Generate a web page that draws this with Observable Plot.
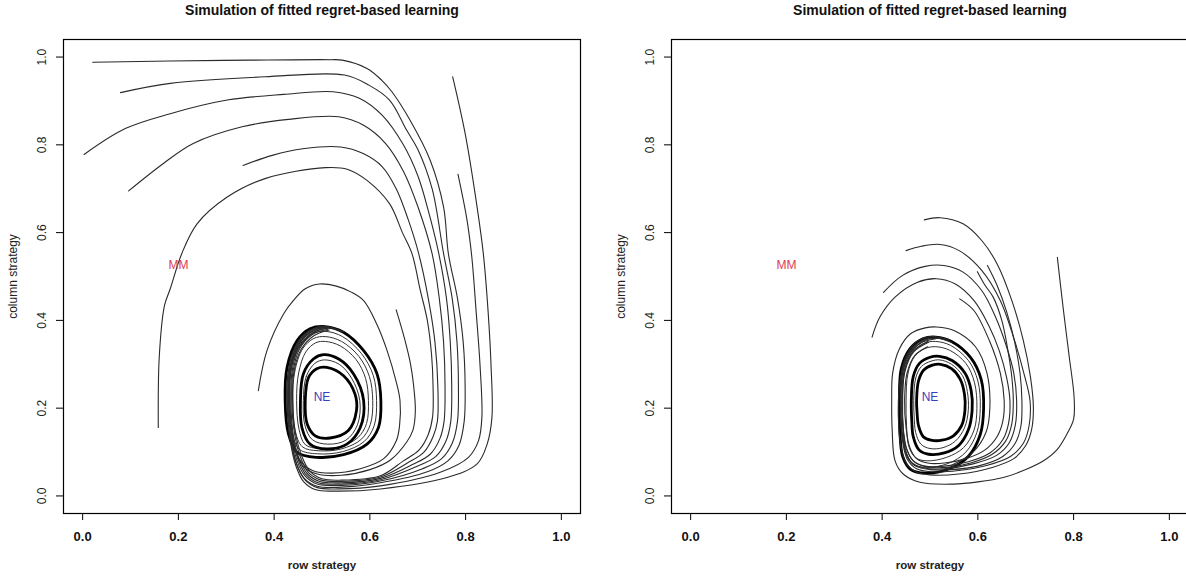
<!DOCTYPE html>
<html>
<head>
<meta charset="utf-8">
<script src="https://cdn.jsdelivr.net/npm/d3@7"></script>
<script src="https://cdn.jsdelivr.net/npm/@observablehq/plot@0.6"></script>
<style>
  html, body { margin: 0; padding: 0; background: #fff; }
  #wrap { width: 1186px; height: 579px; overflow: hidden; display: flex; }
  #wrap > div { width: 608px; flex: 0 0 608px; }
  svg { font-family: "Liberation Sans", Arial, Helvetica, sans-serif; }
</style>
</head>
<body>
<div id="wrap"><div id="p1"></div><div id="p2"></div></div>
<script>
// ---------- axis / text ----------
const xTicks = [0, 0.2, 0.4, 0.6, 0.8, 1.0];
const yTicks = [0, 0.2, 0.4, 0.6, 0.8, 1.0];
const titleText = "Simulation of fitted regret-based learning";
const xLabel = "row strategy";
const yLabel = "column strategy";
const labelMM = {x: 0.2, y: 0.525, text: "MM"};
const labelNE = {x: 0.5, y: 0.225, text: "NE"};

// ---------- left panel trajectories ----------
const leftA = [[.021,.988],[.183,.991],[.35,.993],[.517,.994],[.542,.993],[.594,.974],[.625,.947],[.646,.921],[.684,.856],[.726,.765],[.754,.658],[.764,.552],[.783,.45],[.795,.35],[.799,.25],[.797,.17],[.786,.115],[.763,.08],[.72,.055],[.622,.030],[.54,.020],[.49,.022],[.463,.040],[.446,.075],[.434,.13],[.428,.2],[.428,.27],[.44,.33],[.465,.37],[.5,.386],[.54,.375]];
const leftB = [[.079,.919],[.183,.940],[.381,.955],[.547,.959],[.598,.936],[.641,.902],[.677,.833],[.70,.79],[.73,.70],[.754,.552],[.772,.45],[.782,.35],[.785,.25],[.783,.17],[.772,.12],[.75,.085],[.71,.062],[.622,.034],[.54,.024],[.49,.027],[.465,.045],[.448,.08],[.436,.14],[.431,.21],[.432,.28],[.445,.335],[.47,.372],[.505,.386],[.545,.374]];
const leftC = [[.003,.778],[.089,.837],[.183,.871],[.302,.902],[.42,.915],[.523,.921],[.578,.906],[.626,.867],[.67,.80],[.70,.73],[.722,.65],[.744,.552],[.76,.45],[.768,.35],[.771,.25],[.769,.17],[.759,.125],[.738,.09],[.70,.068],[.622,.037],[.54,.027],[.492,.03],[.467,.048],[.45,.083],[.438,.14],[.433,.21],[.434,.28],[.448,.338],[.475,.373],[.51,.385]];
const leftD = [[.096,.695],[.168,.757],[.231,.803],[.333,.841],[.43,.858],[.535,.864],[.586,.845],[.633,.803],[.67,.74],[.70,.66],[.730,.552],[.745,.45],[.754,.35],[.757,.25],[.755,.17],[.746,.13],[.726,.095],[.69,.072],[.622,.040],[.54,.03],[.495,.033],[.47,.05],[.452,.085],[.44,.14],[.435,.21],[.437,.28],[.45,.335],[.478,.37],[.512,.383]];
const leftE = [[.335,.753],[.396,.776],[.460,.791],[.539,.795],[.586,.780],[.626,.750],[.655,.70],[.68,.63],[.702,.552],[.722,.45],[.736,.35],[.742,.25],[.741,.17],[.732,.135],[.713,.1],[.68,.076],[.622,.043],[.54,.033],[.498,.036],[.472,.053],[.455,.088],[.443,.14],[.437,.21],[.439,.28],[.453,.335],[.48,.368],[.512,.38]];
const leftF = [[.158,.156],[.160,.316],[.171,.434],[.183,.472],[.207,.552],[.239,.620],[.302,.681],[.381,.723],[.507,.748],[.554,.744],[.594,.719],[.641,.666],[.668,.60],[.688,.552],[.705,.47],[.72,.40],[.729,.32],[.732,.25],[.731,.18],[.722,.14],[.703,.105],[.67,.08],[.622,.046],[.54,.036],[.50,.039],[.475,.056],[.458,.09],[.445,.14],[.439,.21],[.441,.28],[.456,.333],[.483,.365],[.515,.378]];
const leftG = [[.367,.240],[.385,.331],[.42,.415],[.44,.445],[.465,.472],[.495,.483],[.53,.478],[.56,.465],[.587,.445],[.615,.39],[.636,.331],[.655,.26],[.663,.217],[.662,.16],[.655,.125],[.629,.085],[.58,.062],[.52,.052],[.48,.058],[.455,.08],[.44,.12],[.432,.18],[.43,.25],[.438,.31],[.458,.355],[.49,.38],[.52,.384]];
const leftH = [[.655,.424],[.672,.36],[.685,.30],[.691,.255],[.695,.194],[.69,.15],[.677,.123],[.643,.082],[.60,.06],[.54,.047],[.49,.05],[.46,.068],[.443,.11],[.435,.17],[.432,.24],[.44,.31],[.46,.35],[.49,.377],[.52,.383]];
const leftI = [[.773,.955],[.799,.826],[.824,.658],[.837,.552],[.847,.42],[.853,.30],[.855,.179],[.845,.118],[.824,.073],[.761,.042],[.622,.016],[.53,.011],[.487,.014],[.462,.032],[.445,.07],[.433,.13],[.427,.2],[.428,.27],[.44,.33],[.465,.37],[.5,.387]];
const leftJ = [[.784,.733],[.803,.628],[.813,.544],[.822,.42],[.83,.30],[.834,.179],[.827,.126],[.806,.088],[.747,.054],[.622,.023],[.535,.016],[.49,.019],[.465,.036],[.447,.073],[.435,.135],[.429,.2],[.43,.27],[.442,.33],[.468,.368],[.502,.385]];

// left panel loops around NE
const leftLoopOuter = [[.423,.217],[.427,.293],[.448,.354],[.475,.381],[.507,.386],[.545,.373],[.587,.331],[.615,.278],[.623,.217],[.618,.156],[.594,.118],[.545,.094],[.489,.088],[.448,.099],[.430,.141]];
const leftLoopT1 = [[.431,.217],[.435,.288],[.454,.345],[.479,.370],[.508,.375],[.543,.363],[.582,.325],[.607,.275],[.614,.217],[.609,.160],[.588,.124],[.543,.101],[.490,.096],[.453,.106],[.437,.145]];
const leftLoopT2 = [[.439,.217],[.443,.283],[.460,.336],[.483,.359],[.508,.363],[.541,.352],[.577,.318],[.599,.272],[.606,.217],[.601,.163],[.582,.129],[.540,.107],[.492,.103],[.459,.112],[.444,.149]];
const leftLoopT3 = [[.447,.217],[.451,.279],[.466,.328],[.487,.349],[.507,.352],[.538,.342],[.571,.311],[.591,.268],[.597,.217],[.593,.165],[.575,.133],[.537,.112],[.494,.108],[.465,.117],[.452,.152]];
const leftLoopMid = [[.455,.217],[.461,.278],[.482,.312],[.503,.322],[.535,.312],[.566,.278],[.587,.217],[.580,.156],[.552,.118],[.510,.107],[.475,.118],[.458,.156]];
const leftLoopT4 = [[.461,.217],[.467,.272],[.485,.302],[.505,.310],[.536,.300],[.562,.268],[.579,.217],[.574,.162],[.550,.127],[.512,.118],[.480,.128],[.464,.162]];
const leftLoopInner = [[.465,.217],[.472,.270],[.489,.290],[.510,.293],[.545,.274],[.569,.232],[.572,.194],[.555,.149],[.517,.132],[.486,.137],[.469,.164]];

// ---------- right panel trajectories ----------
const rightR1 = [[.488,.629],[.521,.634],[.569,.620],[.608,.582],[.640,.529],[.671,.445],[.695,.354],[.710,.270],[.716,.20],[.712,.15],[.70,.115],[.675,.085],[.63,.065],[.56,.05],[.50,.048],[.47,.055],[.45,.075],[.438,.12],[.434,.18],[.436,.25],[.447,.31],[.47,.35],[.505,.363],[.54,.355]];
const rightR2 = [[.450,.559],[.482,.569],[.521,.573],[.561,.559],[.608,.514],[.647,.445],[.675,.36],[.696,.28],[.709,.217],[.707,.16],[.695,.12],[.668,.09],[.62,.07],[.56,.058],[.505,.055],[.472,.062],[.452,.085],[.442,.13],[.438,.2],[.44,.27],[.452,.318],[.478,.35],[.51,.36],[.545,.35]];
const rightR3 = [[.403,.464],[.442,.502],[.490,.523],[.529,.525],[.569,.510],[.608,.468],[.636,.41],[.66,.34],[.675,.28],[.681,.217],[.678,.16],[.665,.12],[.64,.093],[.59,.073],[.53,.062],[.49,.063],[.463,.075],[.448,.105],[.44,.16],[.439,.23],[.445,.29],[.462,.33],[.49,.355],[.52,.36]];
const rightR4 = [[.379,.362],[.395,.407],[.427,.453],[.474,.487],[.513,.495],[.553,.483],[.592,.445],[.622,.39],[.645,.33],[.66,.27],[.667,.217],[.664,.165],[.652,.128],[.625,.098],[.58,.078],[.53,.068],[.49,.068],[.465,.08],[.45,.11],[.443,.16],[.441,.23],[.447,.29],[.465,.33],[.495,.352]];
const rightR5 = [[.599,.511],[.615,.48],[.632,.453],[.65,.40],[.663,.33],[.671,.27],[.674,.217],[.671,.165],[.658,.125],[.63,.095],[.585,.075],[.535,.065],[.495,.066],[.468,.077],[.452,.105],[.444,.155],[.442,.22],[.448,.285],[.466,.328],[.497,.35]];
const rightR6 = [[.620,.525],[.64,.48],[.66,.42],[.677,.35],[.688,.28],[.692,.217],[.690,.16],[.678,.12],[.652,.09],[.60,.068],[.545,.06],[.5,.06],[.47,.068],[.452,.09],[.443,.135],[.439,.2],[.441,.27],[.453,.318],[.48,.348],[.512,.358]];
const rightR7 = [[.562,.449],[.592,.422],[.624,.354],[.647,.279],[.655,.217],[.652,.17],[.64,.135],[.615,.105],[.575,.085],[.53,.075],[.495,.075],[.472,.085],[.458,.11],[.45,.155],[.447,.22],[.452,.28],[.468,.32],[.495,.34]];
const rightR8 = [[.766,.544],[.778,.430],[.791,.316],[.801,.225],[.800,.175],[.786,.141],[.765,.105],[.737,.080],[.70,.06],[.653,.042],[.60,.032],[.549,.027],[.479,.031],[.444,.050],[.427,.080],[.421,.15],[.420,.217],[.422,.28],[.436,.335],[.46,.37],[.49,.383],[.514,.385],[.55,.377],[.595,.34],[.619,.28],[.625,.2],[.617,.145],[.59,.1],[.545,.07]];

// right panel loops around NE
const rightLoopB1 = [[.436,.217],[.44,.29],[.458,.335],[.485,.358],[.512,.362],[.545,.352],[.585,.315],[.607,.265],[.612,.2],[.605,.14],[.58,.09],[.54,.062],[.49,.052],[.46,.06],[.443,.09],[.437,.15]];
const rightLoopB2 = [[.443,.217],[.447,.285],[.463,.327],[.488,.348],[.512,.352],[.543,.343],[.580,.309],[.600,.262],[.605,.2],[.598,.145],[.575,.1],[.538,.074],[.492,.065],[.465,.072],[.45,.1],[.444,.155]];
const rightLoopB3 = [[.45,.217],[.454,.28],[.468,.318],[.49,.336],[.512,.340],[.541,.332],[.575,.302],[.593,.258],[.598,.2],[.592,.15],[.57,.11],[.535,.088],[.494,.08],[.47,.087],[.456,.112],[.451,.16]];
const rightLoopMid = [[.461,.217],[.465,.272],[.478,.302],[.5,.316],[.52,.318],[.547,.308],[.573,.28],[.586,.24],[.588,.195],[.58,.15],[.56,.115],[.53,.098],[.497,.095],[.477,.105],[.465,.135],[.462,.17]];
const rightLoopB4 = [[.466,.217],[.47,.268],[.482,.295],[.502,.307],[.52,.31],[.545,.3],[.568,.274],[.578,.238],[.58,.195],[.572,.155],[.553,.125],[.527,.11],[.5,.108],[.481,.118],[.47,.145],[.467,.18]];
const rightLoopInner = [[.472,.217],[.476,.262],[.487,.287],[.505,.298],[.522,.300],[.545,.29],[.563,.266],[.572,.232],[.573,.195],[.566,.16],[.549,.137],[.525,.127],[.502,.127],[.486,.135],[.476,.16],[.473,.19]];

// ---------- build tables ----------
function toRows(groups) {
  return groups.flatMap(([name, pts]) => pts.map(([x, y], i) => ({name, x, y, i})));
}
const leftTraj = toRows([["A", leftA], ["B", leftB], ["C", leftC], ["D", leftD], ["E", leftE], ["F", leftF], ["G", leftG], ["H", leftH], ["I", leftI], ["J", leftJ]]);
const leftThin = toRows([["T1", leftLoopT1], ["T2", leftLoopT2], ["T3", leftLoopT3], ["T4", leftLoopT4]]);
const leftThick = toRows([["O", leftLoopOuter], ["M", leftLoopMid], ["N", leftLoopInner]]);
const rightTraj = toRows([["R1", rightR1], ["R2", rightR2], ["R3", rightR3], ["R4", rightR4], ["R5", rightR5], ["R6", rightR6], ["R7", rightR7], ["R8", rightR8]]);
const rightThin = toRows([["B2", rightLoopB2], ["B3", rightLoopB3], ["B4", rightLoopB4]]);
const rightThick = toRows([["B1", rightLoopB1], ["M", rightLoopMid], ["N", rightLoopInner]]);

const fmt = d3.format(".1f");

function panel(traj, thin, thick) {
  return Plot.plot({
    width: 608,
    height: 579,
    marginLeft: 63,
    marginRight: 28,
    marginTop: 39,
    marginBottom: 66,
    x: {domain: [-0.04, 1.04]},
    y: {domain: [-0.04, 1.04]},
    style: {fontFamily: '"Liberation Sans", Arial, Helvetica, sans-serif', background: "white"},
    marks: [
      Plot.frame({stroke: "black", strokeWidth: 1.2}),
      Plot.axisX({ticks: xTicks, tickSize: 7, stroke: "black", fill: "none", label: null}),
      Plot.axisY({ticks: yTicks, tickSize: 7, stroke: "black", fill: "none", label: null}),
      Plot.text(xTicks, {x: d => d, frameAnchor: "bottom", dy: 23, text: d => fmt(d), textAnchor: "middle", lineAnchor: "middle", fontWeight: "bold", fontSize: 13, fill: "#111"}),
      Plot.text(yTicks, {y: d => d, frameAnchor: "left", dx: -21.5, rotate: -90, text: d => fmt(d), textAnchor: "middle", lineAnchor: "middle", fontSize: 12, fill: "#222"}),
      Plot.text([titleText], {frameAnchor: "top", dy: -28.5, text: d => d, textAnchor: "middle", lineAnchor: "middle", fontWeight: "bold", fontSize: 14, fill: "#111"}),
      Plot.text([xLabel], {frameAnchor: "bottom", dy: 52, text: d => d, textAnchor: "middle", lineAnchor: "middle", fontWeight: "bold", fontSize: 11.5, fill: "#222"}),
      Plot.text([yLabel], {frameAnchor: "left", dx: -50.5, rotate: -90, text: d => d, textAnchor: "middle", lineAnchor: "middle", fontSize: 12, fill: "#222"}),
      Plot.line(thin, {x: "x", y: "y", z: "name", curve: "catmull-rom-closed", stroke: "#333", strokeWidth: 1}),
      Plot.line(thick, {x: "x", y: "y", z: "name", curve: "catmull-rom-closed", stroke: "#000", strokeWidth: 2.8}),
      Plot.line(traj, {x: "x", y: "y", z: "name", curve: "catmull-rom", stroke: "#2a2a2a", strokeWidth: 1.1}),
      Plot.text([labelMM], {x: "x", y: "y", text: "text", fill: "#dc3c50", fontSize: 12, textAnchor: "middle", lineAnchor: "middle"}),
      Plot.text([labelNE], {x: "x", y: "y", text: "text", fill: "#3c3cbc", fontSize: 12, textAnchor: "middle", lineAnchor: "middle"})
    ]
  });
}

document.getElementById("p1").appendChild(panel(leftTraj, leftThin, leftThick));
document.getElementById("p2").appendChild(panel(rightTraj, rightThin, rightThick));
</script>
</body>
</html>
